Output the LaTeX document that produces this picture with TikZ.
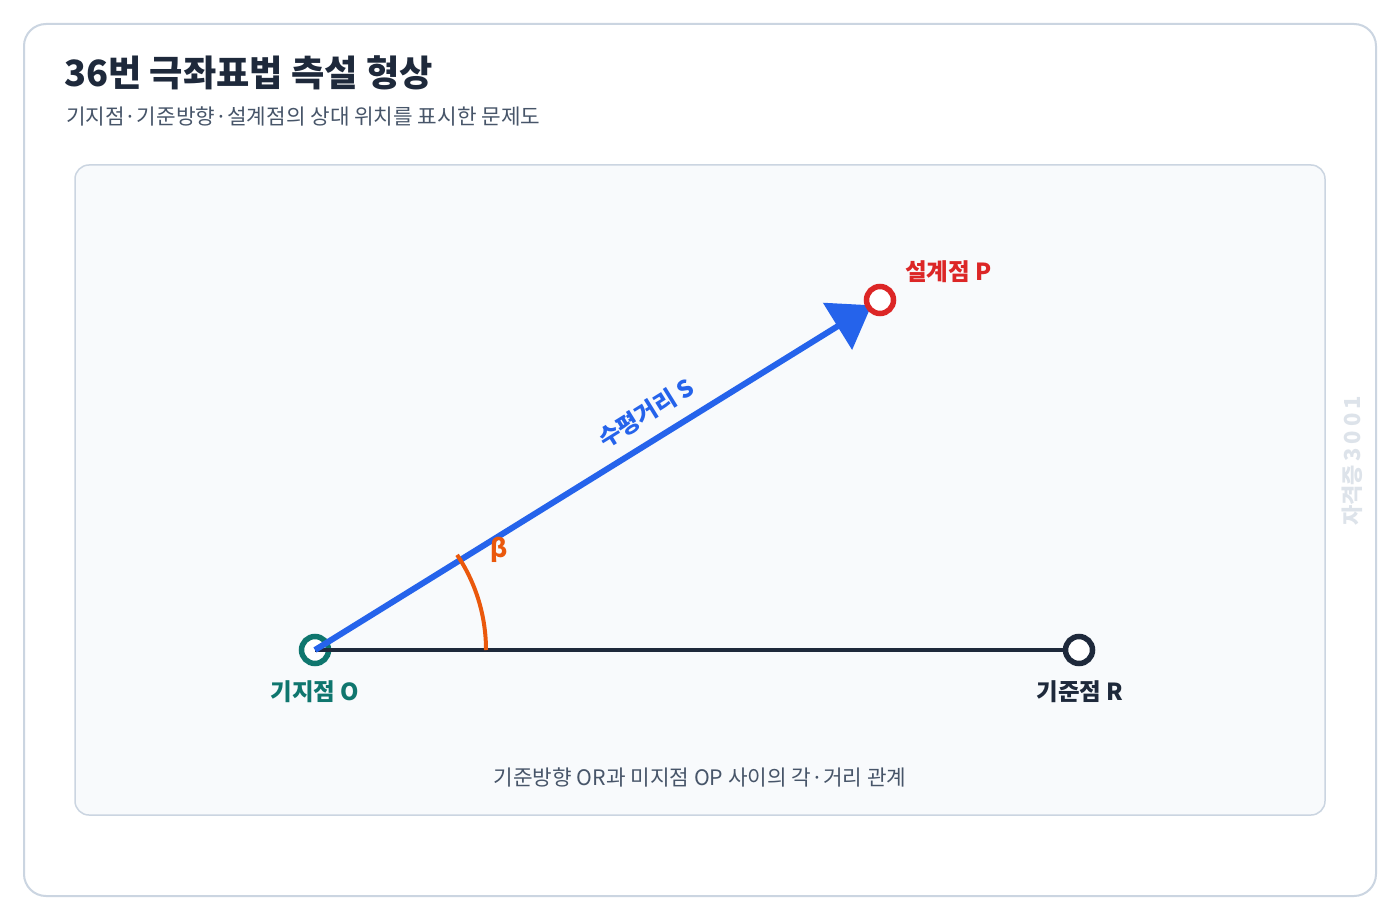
\documentclass[tikz,border=0pt]{standalone}
\usepackage{fontspec}
\setmainfont{Noto Sans CJK KR}
\usetikzlibrary{arrows.meta}
\definecolor{ink}{HTML}{1E293B}
\definecolor{sub}{HTML}{475569}
\definecolor{frame}{HTML}{CBD5E1}
\definecolor{panelfill}{HTML}{F8FAFC}
\definecolor{teal}{HTML}{0F766E}
\definecolor{redp}{HTML}{DC2626}
\definecolor{bluel}{HTML}{2563EB}
\definecolor{orangea}{HTML}{EA580C}
\definecolor{wm}{HTML}{DDE3EA}
\pgfdeclarelayer{panel}
\pgfdeclarelayer{low}
\pgfdeclarelayer{lines}
\pgfsetlayers{panel,low,lines,main}
\tikzset{
  pointnode/.style={circle, draw=#1, fill=white, line width=5.5pt, minimum size=27pt, inner sep=0pt},
  ptlabel/.style={font=\fontsize{23.5}{26}\selectfont\bfseries, text=#1, inner sep=0pt},
  captext/.style={font=\fontsize{21.3}{24}\selectfont, text=sub, inner sep=0pt},
}
\begin{document}
\begin{tikzpicture}[x=1pt,y=-1pt]
\useasboundingbox (0,0) rectangle (1400,920);
\begin{pgfonlayer}{panel}
\fill[white] (0,0) rectangle (1400,920);
\draw[frame, line width=2pt, rounded corners=22pt] (24,24) rectangle (1376,896);
\draw[frame, fill=panelfill, line width=1.5pt, rounded corners=14pt] (75,165) rectangle (1325,815);
\end{pgfonlayer}
% title
\node[anchor=base west, inner sep=0pt, text=ink, font=\fontsize{36.2}{40}\selectfont\bfseries] (title) at (64,87) {36번 극좌표법 측설 형상};
\node[anchor=base west, captext] (subtitle) at (66,125) {기지점·기준방향·설계점의 상대 위치를 표시한 문제도};
% points
\coordinate (O) at (315,650);
\coordinate (P) at (880,300);
\coordinate (R) at (1079,650);
\begin{pgfonlayer}{low}
\node[pointnode=teal] (nO) at (O) {};
\end{pgfonlayer}
\node[pointnode=redp] (nP) at (P) {};
\node[pointnode=ink] (nR) at (R) {};
\begin{pgfonlayer}{lines}
\draw[ink, line width=3.5pt] (O) -- (R);
\draw[bluel, line width=6pt, shorten >=10pt, -{Triangle[length=40pt,width=54pt]}] (O) -- (P);
\draw[orangea, line width=4pt] (O) ++(171,0) arc[start angle=0, end angle=-33.8, radius=171];
\end{pgfonlayer}
% labels
\node[ptlabel=orangea, anchor=center, font=\fontsize{25}{27}\selectfont\bfseries] (beta) at (499,550) {β};
\node[ptlabel=bluel, rotate=31.8] (slabel) at (646,413) {수평거리 S};
\node[ptlabel=redp, anchor=base west] (lP) at (905,280) {설계점 P};
\node[ptlabel=teal, anchor=base] (lO) at (315,700) {기지점 O};
\node[ptlabel=ink, anchor=base] (lR) at (1080,700) {기준점 R};
\node[captext, anchor=base] (caption) at (700,785) {기준방향 OR과 미지점 OP 사이의 각·거리 관계};
\node[rotate=90, inner sep=0pt, text=wm, font=\fontsize{22}{24}\selectfont\bfseries] (wmk) at (1352,461) {자격증\,3\,0\,0\,1};
\end{tikzpicture}
\end{document}
